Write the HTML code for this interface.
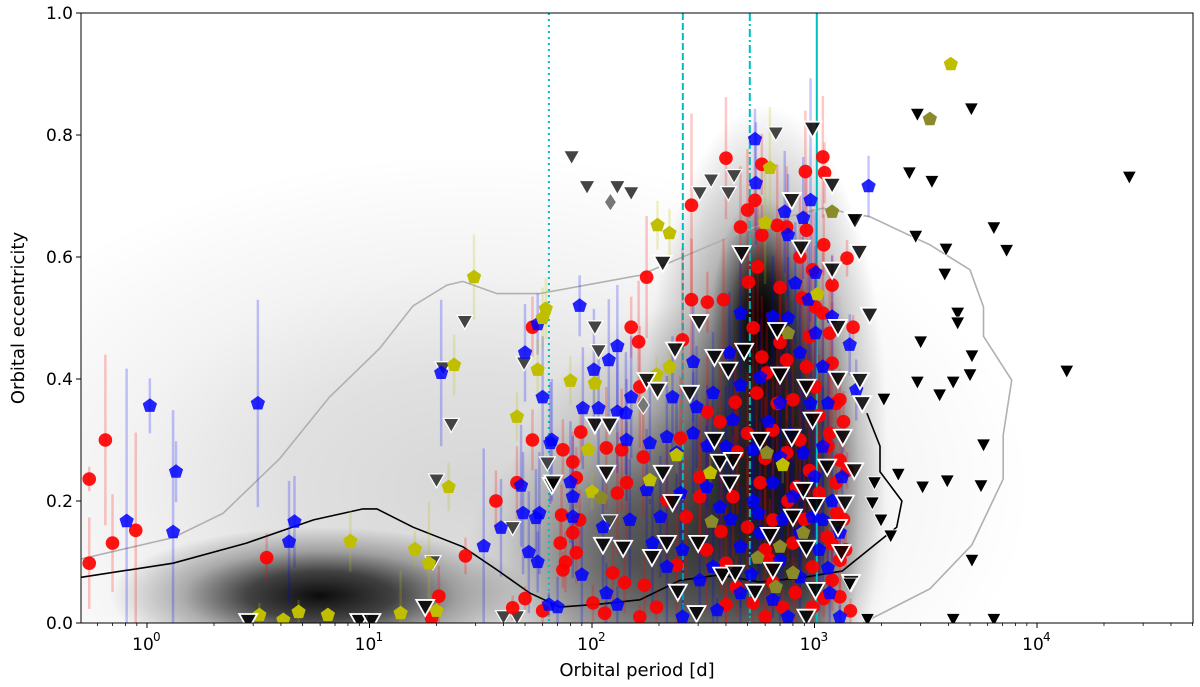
<!DOCTYPE html>
<html><head><meta charset="utf-8"><style>
html,body{margin:0;padding:0;background:#fff;width:1200px;height:687px;overflow:hidden;}
svg{display:block;font-family:"DejaVu Sans","Liberation Sans",sans-serif;}
</style></head><body>
<svg id="chart" width="1200" height="687" viewBox="0 0 1200 687" xmlns="http://www.w3.org/2000/svg">
<defs>
<radialGradient id="blob" cx="50%" cy="50%" r="50%">
<stop offset="0" stop-color="#000" stop-opacity="1"/>
<stop offset="0.35" stop-color="#000" stop-opacity="0.75"/>
<stop offset="0.65" stop-color="#000" stop-opacity="0.3"/>
<stop offset="1" stop-color="#000" stop-opacity="0"/>
</radialGradient>
<clipPath id="plotclip"><rect x="81" y="13" width="1112" height="610"/></clipPath>
</defs>
<g id="plot" clip-path="url(#plotclip)"></g>
<g id="axes"></g>
</svg>
<script>
// ---- data ----
const densityBlobs = [ // [period center, ecc center, sigma log10P, sigma e, strength]
 [30,0.22,1.0,0.22,0.16],[6,0.045,0.38,0.045,0.95],[600,0.3,0.22,0.22,0.9],[580,0.5,0.09,0.08,1],
 [300,0.15,0.35,0.15,0.55],[900,0.2,0.1,0.18,0.55],[150,0.1,0.3,0.1,0.4]];
const grayContourP = [0.505,1.31,2.2,3.96,6.6,11.1,15.7,22.3,26.3,37.4,58,164,462,650,1092,1770,3300,5000,5750,5750,7700,7050,7050,5100,3300,1650];
const grayContourE = [0.105,0.14,0.18,0.27,0.37,0.45,0.52,0.554,0.56,0.54,0.54,0.57,0.64,0.66,0.68,0.666,0.62,0.579,0.518,0.47,0.398,0.308,0.236,0.128,0.056,0.0];
const blackContourP = [0.505,1.31,2.8,5.6,9.35,10.8,15.7,26.3,37.4,52.6,71.8,109,164,249,376,565,860,1330,2030,2340,2470,1970,1970,1720];
const blackContourE = [0.075,0.098,0.131,0.169,0.187,0.187,0.157,0.125,0.087,0.049,0.026,0.031,0.038,0.07,0.079,0.067,0.074,0.085,0.139,0.157,0.2,0.248,0.29,0.344];
const limitPeriods = [64,256,512,1024];
const redPts = [[0.55,0.236,0.02],[0.65,0.30,0.14],[0.70,0.131,0.08],[0.55,0.098,0.075],[0.89,0.152,0.16],[3.45,0.107,0.04],[20.5,0.044,0.05],[19,0.008,0.02],[27,0.11,0.03],[37,0.20,0.05],[46,0.23,0.06],[54,0.30,0.05],[54,0.485,0.05],
[400,0.762,0.1],[580,0.752,0.05],[1090,0.764,0.1],[1110,0.738,0.05],[910,0.74,0.1],[280,0.685,0.15],[500,0.677,0.1],[540,0.693,0.05],[465,0.649,0.1],[580,0.636,0.05],[680,0.652,0.1],[750,0.649,0.1],[920,0.644,0.1],[1400,0.598,0.03],[555,0.584,0.1],[505,0.559,0.05],[980,0.579,0.1],[1200,0.554,0.05],[176,0.567,0.1],[280,0.53,0.1],[330,0.526,0.05],[390,0.53,0.1],[880,0.533,0.1],[1010,0.518,0.1],[150,0.485,0.05],[162,0.461,0.1],[255,0.464,0.15],[530,0.484,0.1],[1490,0.485,0.02],[580,0.436,0.1],[1090,0.508,0.1],[1170,0.475,0.1],[164,0.387,0.1],[440,0.362,0.1],[330,0.346,0.1],[376,0.33,0.1],[89,0.313,0.05],[116,0.287,0.1],[136,0.284,0.1],[74,0.284,0.05],[82,0.264,0.05],[85,0.238,0.05],[170,0.272,0.1],[250,0.303,0.1],[500,0.311,0.1],[650,0.316,0.1],[750,0.279,0.1],[1170,0.311,0.1],[1300,0.267,0.05],[570,0.23,0.1],[430,0.207,0.1],[305,0.239,0.1],[217,0.202,0.1],[143,0.23,0.1],[130,0.213,0.1],[73,0.177,0.05],[88,0.169,0.05],[82,0.148,0.05],[72,0.131,0.05],[85,0.115,0.05],[76,0.10,0.05],[74,0.087,0.03],[124,0.082,0.05],[140,0.066,0.05],[172,0.062,0.05],[101,0.033,0.03],[114,0.016,0.02],[164,0.01,0.02],[195,0.026,0.03],[240,0.095,0.1],[327,0.12,0.1],[400,0.098,0.1],[445,0.059,0.05],[530,0.033,0.03],[650,0.067,0.05],[800,0.131,0.1],[980,0.092,0.05],[1200,0.07,0.05],[1300,0.043,0.03],[980,0.026,0.03],[720,0.026,0.03],[630,0.103,0.1],[500,0.157,0.1],[650,0.169,0.1],[830,0.223,0.1],[1050,0.213,0.1],[1260,0.18,0.05],[1140,0.141,0.05],[1300,0.103,0.05],[1300,0.366,0.05],[1200,0.426,0.1],[920,0.42,0.1],[750,0.431,0.1],[610,0.41,0.1],[1010,0.387,0.1],[800,0.366,0.1],[550,0.377,0.1],[265,0.174,0.1],[305,0.207,0.1],[1350,0.33,0.05],[1400,0.25,0.03],[1380,0.12,0.03],[1450,0.02,0.02],[44,0.025,0.02],[50,0.04,0.02],[60,0.02,0.02],
[700,0.55,0.1],[860,0.6,0.1],[1100,0.62,0.05],[1250,0.36,0.05],[950,0.47,0.1],[700,0.46,0.1],[860,0.3,0.1],[950,0.25,0.1],[1150,0.29,0.05],[600,0.27,0.1],[900,0.17,0.1],[1200,0.13,0.05],[760,0.2,0.1],[600,0.12,0.1],[380,0.15,0.1],[450,0.28,0.1],[820,0.05,0.05],[1100,0.04,0.03],[600,0.01,0.02],[400,0.03,0.03],[1250,0.23,0.05],[1350,0.17,0.04],[680,0.36,0.1],[1050,0.34,0.1]];
const bluePts = [[0.81,0.167,0.25],[1.03,0.356,0.045],[1.35,0.248,0.05],[1.31,0.149,0.2],[3.15,0.36,0.17],[4.6,0.166,0.075],[4.35,0.133,0.1],[21,0.41,0.12],[32.6,0.126,0.16],[39,0.156,0.08],[48,0.225,0.1],[49,0.18,0.1],[56,0.172,0.08],[52,0.116,0.1],[57,0.10,0.05],[50,0.443,0.08],[60,0.37,0.1],[65,0.295,0.1],[57,0.49,0.05],
[540,0.793,0.05],[1750,0.716,0.05],[545,0.721,0.1],[820,0.557,0.1],[960,0.693,0.2],[735,0.674,0.1],[890,0.664,0.1],[760,0.636,0.1],[88,0.52,0.05],[465,0.508,0.1],[650,0.502,0.1],[1010,0.574,0.1],[1200,0.502,0.1],[130,0.454,0.1],[119,0.431,0.1],[102,0.415,0.1],[1440,0.456,0.05],[91,0.352,0.1],[107,0.352,0.1],[130,0.346,0.1],[142,0.344,0.1],[150,0.37,0.1],[230,0.37,0.1],[285,0.428,0.1],[295,0.354,0.1],[415,0.443,0.1],[465,0.39,0.1],[350,0.377,0.1],[570,0.403,0.1],[700,0.361,0.1],[860,0.443,0.1],[1010,0.475,0.1],[1090,0.42,0.1],[1540,0.382,0.05],[66,0.30,0.1],[143,0.30,0.1],[182,0.295,0.1],[217,0.305,0.1],[285,0.311,0.1],[400,0.289,0.1],[240,0.279,0.1],[430,0.333,0.1],[530,0.284,0.1],[700,0.272,0.1],[890,0.279,0.1],[1090,0.289,0.1],[1330,0.239,0.05],[80,0.231,0.1],[82,0.207,0.1],[58,0.18,0.1],[82,0.174,0.1],[112,0.157,0.1],[148,0.169,0.1],[176,0.218,0.1],[203,0.174,0.1],[250,0.213,0.1],[327,0.223,0.1],[376,0.19,0.1],[530,0.20,0.1],[650,0.23,0.1],[800,0.207,0.1],[980,0.174,0.1],[1200,0.20,0.1],[1300,0.148,0.05],[90,0.079,0.1],[70,0.026,0.05],[116,0.049,0.05],[130,0.03,0.03],[187,0.131,0.1],[217,0.092,0.1],[255,0.12,0.1],[305,0.07,0.05],[350,0.092,0.1],[465,0.125,0.1],[570,0.148,0.1],[700,0.103,0.1],[860,0.148,0.1],[1050,0.12,0.1],[860,0.075,0.05],[650,0.038,0.03],[465,0.049,0.05],[365,0.021,0.02],[255,0.01,0.02],[1170,0.049,0.05],[1300,0.01,0.02],[1090,0.169,0.1],[64,0.03,0.02],
[760,0.5,0.1],[940,0.53,0.1],[620,0.33,0.1],[780,0.31,0.1],[960,0.36,0.1],[1150,0.36,0.05],[560,0.18,0.1],[720,0.17,0.1],[1000,0.24,0.1],[1150,0.09,0.05],[520,0.08,0.05],[760,0.01,0.02],[420,0.17,0.1],[330,0.29,0.1]];
const yellowPts = [[29.5,0.567,0.07],[24,0.423,0.05],[22.7,0.223,0.04],[46,0.338,0.04],[57,0.415,0.05],[62,0.515,0.05],[8.2,0.134,0.05],[16,0.121,0.03],[18.5,0.098,0.1],[3.2,0.013,0.02],[4.1,0.005,0.01],[4.8,0.018,0.02],[6.5,0.013,0.01],[13.8,0.016,0.07],[20,0.02,0.03],[60,0.50,0.05],
[630,0.746,0.1],[600,0.656,0.1],[197,0.652,0.04],[223,0.639,0.04],[1030,0.539,0.05],[80,0.397,0.04],[103,0.393,0.04],[195,0.407,0.03],[223,0.42,0.03],[240,0.275,0.03],[182,0.234,0.03],[96,0.284,0.03],[100,0.215,0.03],[340,0.246,0.03],[720,0.259,0.03],[4100,0.916,0.01]];
const olivePts = [[3300,0.826,0.03],[1200,0.674,0.03],[760,0.475,0.03],[110,0.205,0.03],[610,0.279,0.03],[345,0.166,0.03],[555,0.107,0.03],[700,0.125,0.03],[800,0.082,0.03],[670,0.059,0.03],[890,0.148,0.03]];
const grayTriPts = [[26.8,0.494],[21.4,0.418],[23.3,0.325],[20,0.234],[19.3,0.10],[44,0.156],[49.5,0.426],[63,0.262],[40,0.01],[46,0.01],[81,0.764],[95,0.715],[130,0.715],[150,0.705],[305,0.705],[343,0.726],[435,0.733],[410,0.705],[670,0.803],[103,0.485],[107,0.446],[120,0.167]];
const grayDiamondPts = [[121,0.69],[170,0.357]];
const edgedTriPts = [[2.85,0.003],[9,0.003],[10.2,0.003],[17.8,0.026],[66,0.226],[980,0.81],[1200,0.718],[790,0.693],[470,0.606],[870,0.615],[1200,0.579],[1500,0.662],[1590,0.608],[1770,0.505],[208,0.59],[303,0.493],[236,0.448],[483,0.446],[680,0.48],[1275,0.485],[355,0.436],[410,0.415],[700,0.407],[1275,0.40],[1600,0.398],[1640,0.36],[920,0.387],[275,0.377],[176,0.398],[197,0.382],[103,0.325],[120,0.325],[116,0.246],[67,0.23],[208,0.246],[355,0.30],[376,0.264],[430,0.267],[568,0.30],[790,0.305],[980,0.333],[1340,0.305],[1510,0.25],[230,0.198],[416,0.23],[890,0.218],[1140,0.256],[1370,0.197],[1010,0.193],[1275,0.157],[800,0.174],[112,0.128],[138,0.123],[186,0.108],[217,0.131],[300,0.131],[630,0.144],[920,0.123],[1320,0.116],[385,0.079],[440,0.082],[540,0.051],[650,0.087],[1010,0.054],[1460,0.067],[243,0.051],[295,0.016],[920,0.01],[1520,0.66]];
const plainTriPts = [[5070,0.843],[2670,0.738],[3370,0.724],[26000,0.731],[6400,0.648],[2850,0.634],[3900,0.613],[7300,0.611],[3850,0.572],[4400,0.508],[4400,0.492],[3000,0.461],[5100,0.438],[5000,0.407],[13600,0.413],[2900,0.395],[4200,0.395],[3650,0.374],[2050,0.367],[5750,0.292],[2380,0.244],[1860,0.23],[3060,0.223],[3950,0.233],[5600,0.225],[1820,0.197],[1990,0.169],[2200,0.143],[5100,0.103],[1440,0.064],[1730,0.006],[4200,0.006],[6400,0.006],[2900,0.834]];
const yTicks = [0,0.2,0.4,0.6,0.8,1.0];
const yTickLabels = ["0.0","0.2","0.4","0.6","0.8","1.0"];
const xTickExps = [0,1,2,3,4];

// ---- scales ----
const L=81,R=1193,T=13,B=623;
const logMin=-0.2966, logMax=4.7011;
function X(p){return L+(Math.log10(p)-logMin)/(logMax-logMin)*(R-L);}
function Y(e){return B-(e-0)/(1-0)*(B-T);}
const NS="http://www.w3.org/2000/svg";
function mk(tag,attrs,parent){const el=document.createElementNS(NS,tag);for(const k in attrs)el.setAttribute(k,attrs[k]);parent.appendChild(el);return el;}
const plot=document.getElementById('plot'), axes=document.getElementById('axes');
const pxPerDec=(R-L)/(logMax-logMin);

const dg=mk('g',{},plot);


densityBlobs.forEach(b=>{
 const el=mk('ellipse',{cx:X(b[0]),cy:Y(b[1]),rx:b[2]*pxPerDec*2.5,ry:b[3]*(B-T)*2.5,fill:'url(#blob)',opacity:b[4]},dg);
 
 
});
function pathFrom(P,E){return P.map((p,i)=>(i?'L':'M')+X(p).toFixed(1)+','+Y(E[i]).toFixed(1)).join(' ');}
const gc=mk('path',{d:pathFrom(grayContourP,grayContourE),fill:'none',stroke:'#b0b0b0','stroke-width':1.6},plot);


const bc=mk('path',{d:pathFrom(blackContourP,blackContourE),fill:'none',stroke:'#000','stroke-width':1.6},plot);


const dashes=['2,4','7,3','8,3,2,3',''];
limitPeriods.forEach((p,i)=>{
 const el=mk('line',{x1:X(p),x2:X(p),y1:T,y2:B,stroke:'#00bfbf','stroke-width':2,'stroke-dasharray':dashes[i]},plot);
 
 
});
function errBars(pts,color,name){
 const g=mk('g',{},plot);
 
 
 pts.forEach(d=>{mk('line',{x1:X(d[0]),x2:X(d[0]),y1:Y(Math.max(0,d[1]-d[2])),y2:Y(Math.min(1,d[1]+d[2])),stroke:color,'stroke-width':2.5,'stroke-opacity':0.22},g);});
}
errBars(redPts,'#ff0000','red-error-bars');
errBars(bluePts,'#0000ff','blue-error-bars');
errBars(yellowPts,'#bfbf00','yellow-error-bars');
function pent(cx,cy,r){let s='';for(let i=0;i<5;i++){const a=-Math.PI/2+i*2*Math.PI/5;s+=(cx+r*Math.cos(a)).toFixed(1)+','+(cy+r*Math.sin(a)).toFixed(1)+' ';}return s;}
function tri(cx,cy,w,h){return `${cx-w},${cy-h*0.45} ${cx+w},${cy-h*0.45} ${cx},${cy+h*0.55}`;}
function diamond(cx,cy,w,h){return `${cx},${cy-h} ${cx+w},${cy} ${cx},${cy+h} ${cx-w},${cy}`;}
function layer(name){const g=mk('g',{},plot);return g;}
const gGray=layer('gray-triangles');
grayTriPts.forEach(d=>{const el=mk('polygon',{points:tri(X(d[0]),Y(d[1]),8,14),fill:'#444',stroke:'#fff','stroke-width':1.2},gGray);
 
 });
grayDiamondPts.forEach(d=>{const el=mk('polygon',{points:diamond(X(d[0]),Y(d[1]),6,9),fill:'#777',stroke:'#fff','stroke-width':1},gGray);
 
 });
const gRed=layer('red-circles');
redPts.forEach(d=>{const el=mk('circle',{cx:X(d[0]),cy:Y(d[1]),r:6.8,fill:'#ff0000','fill-opacity':0.92},gRed);
 
 });
const gBlue=layer('blue-pentagons');
bluePts.forEach(d=>{const el=mk('polygon',{points:pent(X(d[0]),Y(d[1]),7.5),fill:'#0000ff','fill-opacity':0.85},gBlue);
 
 });
const gY=layer('yellow-pentagons');
yellowPts.forEach(d=>{const el=mk('polygon',{points:pent(X(d[0]),Y(d[1]),7.5),fill:'#bfbf00'},gY);
 
 });
olivePts.forEach(d=>{const el=mk('polygon',{points:pent(X(d[0]),Y(d[1]),7.5),fill:'#8a8a28'},gY);
 
 });
const gE=layer('edged-triangles');
edgedTriPts.forEach(d=>{const el=mk('polygon',{points:tri(X(d[0]),Y(d[1]),9,16),fill:'#000','fill-opacity':0.85,stroke:'#fff','stroke-width':1.8},gE);
 
 });
const gP=layer('plain-triangles');
plainTriPts.forEach(d=>{const el=mk('polygon',{points:tri(X(d[0]),Y(d[1]),7,13),fill:'#000',stroke:'#fff','stroke-width':0.8},gP);
 
 });

const fr=mk('rect',{x:L,y:T,width:R-L,height:B-T,fill:'none',stroke:'#000','stroke-width':1},axes);


yTicks.forEach((v,i)=>{
 mk('line',{x1:L-5,x2:L,y1:Y(v),y2:Y(v),stroke:'#000','stroke-width':1},axes);
 const t=mk('text',{x:L-8,y:Y(v)+6,'text-anchor':'end','font-size':17,fill:'#000'},axes);
 t.textContent=yTickLabels[i];
 
 
});
for(let k=-1;k<=4;k++){
 for(let m=1;m<10;m++){
  const p=m*Math.pow(10,k);const x=X(p);
  if(x<L-0.5||x>R+0.5)continue;
  mk('line',{x1:x,x2:x,y1:B,y2:B+(m===1?5:3),stroke:'#000','stroke-width':m===1?1:0.8},axes);
 }
}
xTickExps.forEach(k=>{
 const t=mk('text',{x:X(Math.pow(10,k))-4,y:B+27,'text-anchor':'middle','font-size':17,fill:'#000'},axes);
 t.textContent='10';
 
 
 const s=mk('text',{x:X(Math.pow(10,k))+6,y:B+18,'text-anchor':'start','font-size':12,fill:'#000'},axes);
 s.textContent=String(k);
 
 
});
const xl=mk('text',{x:(L+R)/2,y:676,'text-anchor':'middle','font-size':18,fill:'#000'},axes);
xl.textContent='Orbital period [d]';


const yl=mk('text',{x:0,y:0,'text-anchor':'middle','font-size':18,fill:'#000',transform:`translate(24,${(T+B)/2}) rotate(-90)`},axes);
yl.textContent='Orbital eccentricity';


</script>
</body></html>
